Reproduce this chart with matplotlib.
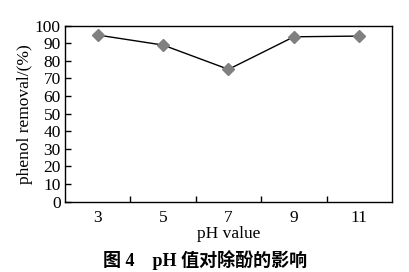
import matplotlib.pyplot as plt
import numpy as np

# data
ph_labels = ['3', '5', '7', '9', '11']
removal = [94.7, 89.0, 75.2, 93.7, 94.1]

plt.rcParams['font.family'] = ['Liberation Serif', 'Noto Sans CJK SC']

fig = plt.figure(figsize=(4.10, 2.72), dpi=100)
ax = fig.add_axes([0.1585, 0.2585, 0.7975, 0.647])

x = np.arange(len(ph_labels))
ax.plot(x, removal, color='black', linewidth=1.0, marker='D', markersize=6.5,
        markerfacecolor='#808080', markeredgecolor='#808080')

ax.set_xlim(-0.5, len(ph_labels) - 0.5)
ax.set_ylim(0, 100)
ax.set_yticks(np.arange(0, 101, 10))

# category labels centred, tick marks between categories
ax.set_xticks(x)
ax.set_xticklabels(ph_labels, fontsize=12.5)
ax.set_xticks(np.arange(0.5, len(ph_labels) - 0.5, 1), minor=True)
ax.tick_params(axis='x', which='major', length=0, pad=6)
ax.tick_params(axis='x', which='minor', direction='in', length=4, width=1)
ax.tick_params(axis='y', direction='in', length=4, width=1, labelsize=12.5, pad=3)

for s in ax.spines.values():
    s.set_linewidth(1.0)

ax.set_xlabel('pH value', fontsize=12.5, labelpad=0)
ax.set_ylabel('phenol removal/(%)', fontsize=12.5, labelpad=1)

fig.text(0.5, 0.045, '图 4    pH 值对除酚的影响', ha='center', va='center',
         fontsize=13, fontweight='bold')

fig.savefig('out.png', dpi=100)
